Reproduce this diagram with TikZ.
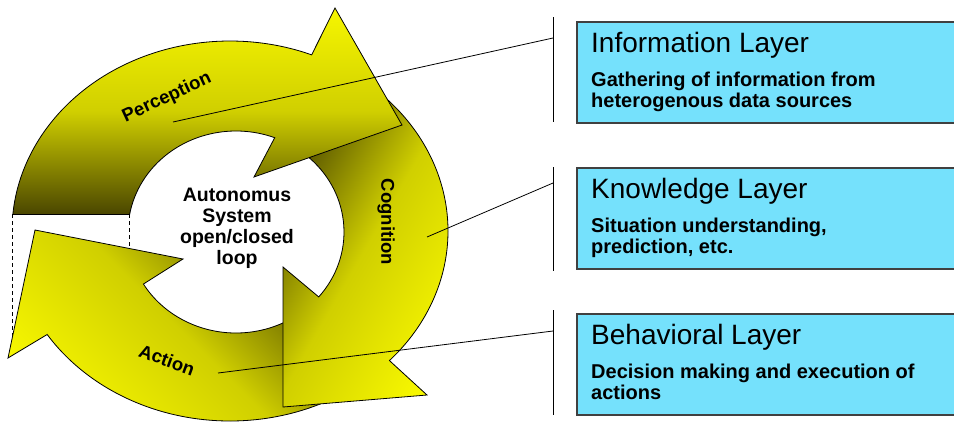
\documentclass[tikz,border=0pt]{standalone}
\usepackage{fontspec}
\setmainfont{Liberation Sans}
\usetikzlibrary{calc}
\definecolor{cycledark}{HTML}{4A4600}
\definecolor{cyclelight}{HTML}{F6F600}
\definecolor{layerfill}{HTML}{75E1FC}
\definecolor{layerline}{HTML}{404040}
\tikzset{
  cyclearrow/.style={draw=black, line width=0.8pt, top color=cyclelight,
    bottom color=cycledark, middle color=cyclelight!78!cycledark},
  steplabel/.style={font=\fontsize{18.5}{21}\selectfont\bfseries},
  tailline/.style={line width=0.8pt, dash pattern=on 4pt off 3pt},
  pinline/.style={line width=0.8pt},
  layerbox/.style={draw=layerline, line width=1.5pt, fill=layerfill,
    minimum width=390pt, minimum height=101pt, anchor=north west, inner sep=0pt},
  layertitle/.style={anchor=base west, inner sep=0pt,
    font=\fontsize{28}{30}\selectfont},
  layertext/.style={anchor=base west, align=left, inner sep=0pt,
    font=\fontsize{20}{21}\selectfont\bfseries},
}

\begin{document}
\begin{tikzpicture}[x=1pt, y=-1pt]
  \useasboundingbox (0,0) rectangle (954,424);
  % centres of the outer and inner rims of the loop
  \coordinate (ring) at (230,231);
  \coordinate (hole) at (236,232);
  \coordinate (tailout) at ($(ring)+(185:218 and 190)$);
  \coordinate (tailin) at ($(hole)+(190:108 and 101)$);

  % where the loop is cut open
  \draw[tailline] (tailout) -- ++(0,130);
  \draw[tailline] (tailin) -- ++(0,50);

  % the three arrows of the loop, last one on top
  \shadedraw[cyclearrow, shading angle=135]
    ($(ring)+(55:218 and 190)$) arc[start angle=55, end angle=147, x radius=218, y radius=190]
    -- (8,358) -- (35,230) -- (183,259)
    -- ($(hole)+(149:108 and 101)$) arc[start angle=149, end angle=55, x radius=108, y radius=101]
    -- cycle;
  \shadedraw[cyclearrow, shading angle=-120]
    ($(ring)+(306:218 and 190)$) arc[start angle=306, end angle=403, x radius=218, y radius=190]
    -- (427,395) -- (283,407) -- (283,267)
    -- ($(hole)+(400:108 and 101)$) arc[start angle=400, end angle=313, x radius=108, y radius=101]
    -- cycle;
  \shadedraw[cyclearrow]
    (tailout) arc[start angle=185, end angle=292, x radius=218, y radius=190]
    -- (335,8) -- (402,125) -- (254,177)
    -- ($(hole)+(291:108 and 101)$) arc[start angle=291, end angle=190, x radius=108, y radius=101]
    -- cycle;

  \node[steplabel, rotate=25] (perc) at (167,98) {Perception};
  \node[steplabel, rotate=-90] (cogn) at (386,222) {Cognition};
  \node[steplabel, rotate=-20] (actn) at (167,360) {Action};
  \node[font=\fontsize{19.5}{21}\selectfont\bfseries, align=center] (core) at (237,228)
    {Autonomus\\System\\open/closed\\loop};

  % layer boxes
  \node[layerbox] (info) at (576,21) {};
  \node[layerbox] (know) at (576,167) {};
  \node[layerbox] (behv) at (576,313) {};
  \node[layertitle] (infotitle) at ($(info.north west)+(15,31)$) {Information Layer};
  \node[layertitle] (knowtitle) at ($(know.north west)+(15,31)$) {Knowledge Layer};
  \node[layertitle] (behvtitle) at ($(behv.north west)+(15,31)$) {Behavioral Layer};
  \node[layertext] (infotext) at ($(info.north west)+(15,86)$)
    {Gathering of information from\\heterogenous data sources};
  \node[layertext] (knowtext) at ($(know.north west)+(15,86)$)
    {Situation understanding,\\prediction, etc.};
  \node[layertext] (behvtext) at ($(behv.north west)+(15,86)$)
    {Decision making and execution of\\actions};

  % brackets and pointers into the loop
  \coordinate (infotop) at (553,17);  \coordinate (infobot) at (553,122);
  \coordinate (knowtop) at (553,167); \coordinate (knowbot) at (553,271);
  \coordinate (behvtop) at (553,310); \coordinate (behvbot) at (553,415);
  \coordinate (infopin) at (553,38);
  \coordinate (knowpin) at (553,183);
  \coordinate (behvpin) at (553,331);
  \coordinate (percpin) at (173,122);
  \coordinate (cognpin) at (427,237);
  \coordinate (actnpin) at (218,373);
  \draw[pinline] (infotop) -- (infobot);
  \draw[pinline] (knowtop) -- (knowbot);
  \draw[pinline] (behvtop) -- (behvbot);
  \draw[pinline] (percpin) -- (infopin);
  \draw[pinline] (cognpin) -- (knowpin);
  \draw[pinline] (actnpin) -- (behvpin);
\end{tikzpicture}
\end{document}
